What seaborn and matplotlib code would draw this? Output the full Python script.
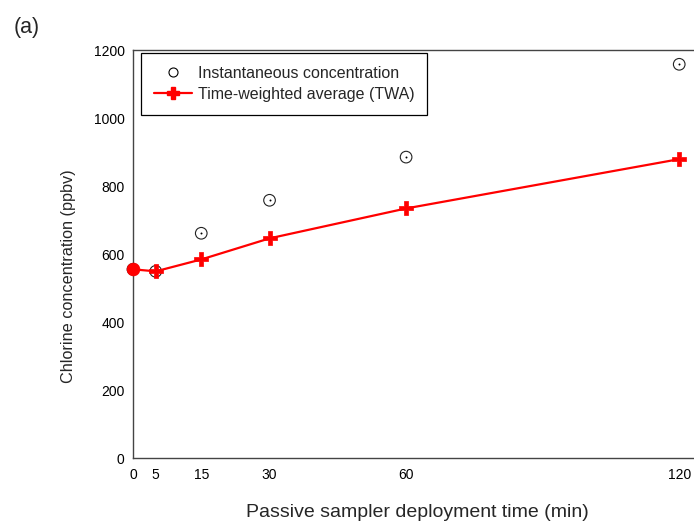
import matplotlib
matplotlib.use("Agg")
import matplotlib.pyplot as plt
import seaborn as sns
import pandas as pd
from matplotlib.lines import Line2D

time_min = [0, 5, 15, 30, 60, 120]
instantaneous = [555, 549, 661, 758, 885, 1158]
twa = [555, 549, 584, 646, 734, 879]
x_ticks = [0, 5, 15, 30, 60, 120]
y_ticks = [0, 200, 400, 600, 800, 1000, 1200]

sns.set_theme(style="white")
plt.rcParams['font.family'] = ['Liberation Sans', 'DejaVu Sans']

fig = plt.figure(figsize=(6.94, 5.22), dpi=100)
ax = fig.add_axes([0.1916, 0.1226, 0.8199, 0.7816])

df = pd.DataFrame({"t": time_min, "inst": instantaneous, "twa": twa})

# instantaneous: open circles with a centre dot
sns.scatterplot(data=df, x="t", y="inst", ax=ax, marker="o", s=70,
                facecolor="none", edgecolor="#222222", linewidth=0.8, zorder=2,
                clip_on=False)
sns.scatterplot(data=df, x="t", y="inst", ax=ax, marker="o", s=2,
                color="black", linewidth=0, zorder=2, clip_on=False)

# TWA line
sns.lineplot(data=df, x="t", y="twa", ax=ax, color="#ff0000", linewidth=1.6,
             zorder=3)
sns.scatterplot(data=df.iloc[1:], x="t", y="twa", ax=ax, marker="P", s=100,
                color="#ff0000", edgecolor="#ff0000", linewidth=0.5, zorder=4,
                clip_on=False)
sns.scatterplot(data=df.iloc[:1], x="t", y="twa", ax=ax, marker="o", s=85,
                color="#ff0000", edgecolor="#ff0000", linewidth=0.5, zorder=4,
                clip_on=False)

ax.set_xlim(0, 125)
ax.set_ylim(0, 1200)
ax.set_xticks(x_ticks)
ax.set_yticks(y_ticks)
ax.tick_params(axis="both", direction="in", length=4, width=0.8,
               labelsize=10, colors="black", pad=6)
ax.tick_params(axis="x", pad=7)
for side in ["left", "bottom", "top"]:
    ax.spines[side].set_color("#444444")
    ax.spines[side].set_linewidth(1.0)
ax.spines["right"].set_visible(False)

ax.set_xlabel("Passive sampler deployment time (min)", fontsize=14, labelpad=16)
ax.set_ylabel("Chlorine concentration (ppbv)", fontsize=11.7)
ax.yaxis.set_label_coords(-0.101, 0.446)

handles = [
    Line2D([], [], linestyle="none", marker="o", markersize=6.5,
           markerfacecolor="none", markeredgecolor="black", markeredgewidth=0.8),
    Line2D([], [], color="#ff0000", linewidth=1.6, marker="P", markersize=9,
           markerfacecolor="#ff0000", markeredgecolor="#ff0000"),
]
leg = ax.legend(handles, ["Instantaneous concentration", "Time-weighted average (TWA)"],
                loc="upper left", bbox_to_anchor=(0.014, 0.993), borderaxespad=0,
                fontsize=11.5,
                frameon=True, fancybox=False, edgecolor="black", framealpha=1,
                handlelength=2.4, borderpad=0.8, labelspacing=0.4, handletextpad=0.35)
leg.get_frame().set_linewidth(0.9)

fig.text(0.019, 0.948, "(a)", fontsize=15.5, ha="left", va="center")

fig.savefig("out.png", dpi=100)
